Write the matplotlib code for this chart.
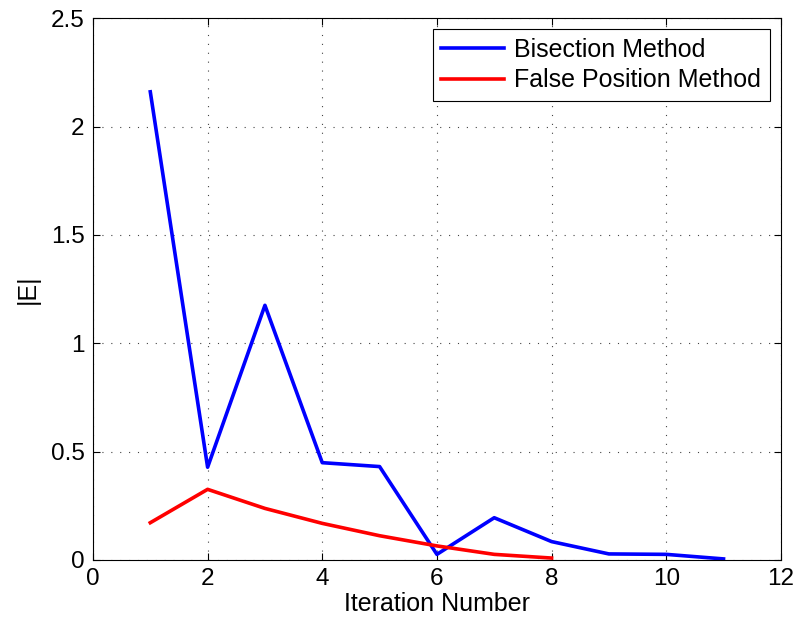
import matplotlib

matplotlib.use("Agg")
import matplotlib.pyplot as plt

plt.rcParams["font.family"] = ["Liberation Sans", "DejaVu Sans"]

# absolute error per iteration for the two root-finding methods
bisect_iter = [1, 2, 3, 4, 5, 6, 7, 8, 9, 10, 11]
bisect_err = [2.16, 0.428, 1.175, 0.449, 0.431, 0.026, 0.195, 0.085, 0.028, 0.026, 0.005]

falsepos_iter = [1, 2, 3, 4, 5, 6, 7, 8]
falsepos_err = [0.172, 0.326, 0.238, 0.169, 0.112, 0.065, 0.026, 0.009]

x_ticks = [0, 2, 4, 6, 8, 10, 12]
y_ticks = [0, 0.5, 1, 1.5, 2, 2.5]

fig = plt.figure(figsize=(7.98, 6.25), dpi=100)
ax = fig.add_axes([0.1165, 0.104, 0.862, 0.867])

ax.plot(bisect_iter, bisect_err, color="#0000ff", lw=2.6, label="Bisection Method")
ax.plot(falsepos_iter, falsepos_err, color="#ff0000", lw=2.6, label="False Position Method")

ax.set_xlim(0, 12)
ax.set_ylim(0, 2.5)
ax.set_xticks(x_ticks)
ax.set_yticks(y_ticks)
ax.set_yticklabels(["0", "0.5", "1", "1.5", "2", "2.5"])
ax.tick_params(direction="in", top=True, right=True, labelsize=17.5, length=5,
               width=0.8, pad=6)
ax.grid(True, linestyle=(0, (1, 7)), color="#444444", linewidth=0.8)
for s in ax.spines.values():
    s.set_linewidth(0.8)

ax.set_xlabel("Iteration Number", fontsize=18, labelpad=1)
ax.set_ylabel("|E|", fontsize=18, labelpad=8)

leg = ax.legend(loc="upper right", fontsize=18, fancybox=False, framealpha=1,
                edgecolor="black", borderpad=0.35, handlelength=2.5,
                handletextpad=0.4, labelspacing=0.25, borderaxespad=0.45)
leg.get_frame().set_linewidth(0.8)

fig.savefig("out.png", dpi=100)
